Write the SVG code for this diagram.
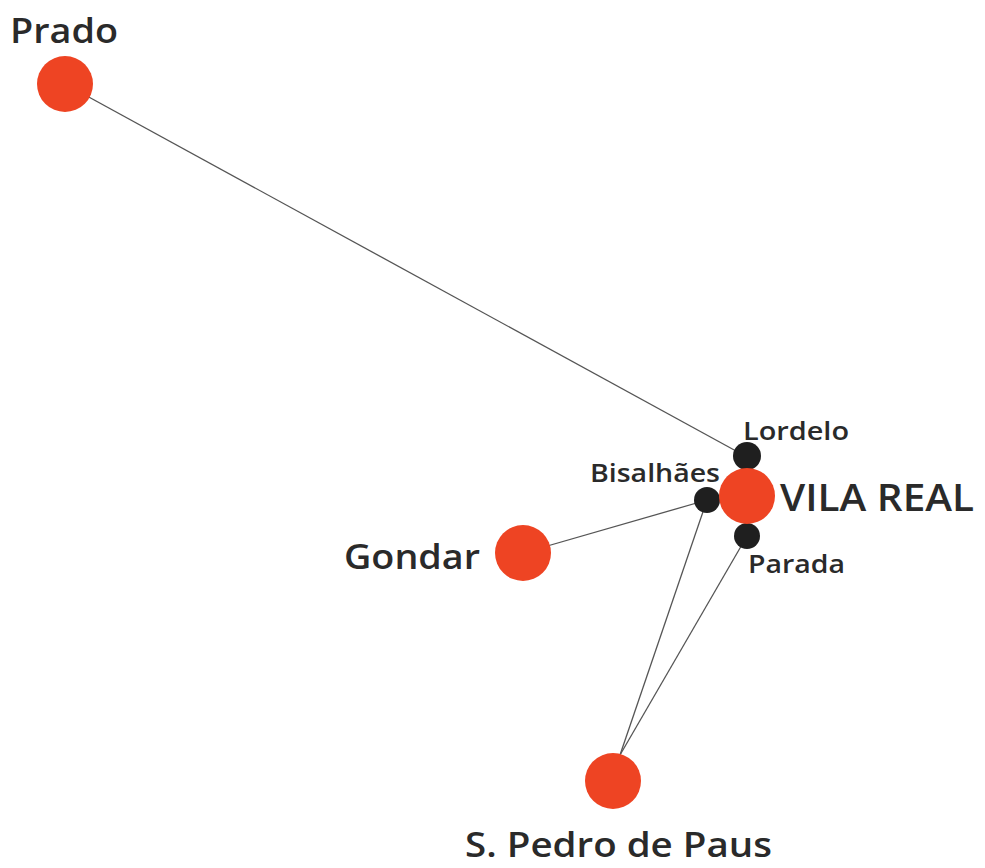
<svg xmlns="http://www.w3.org/2000/svg" width="985" height="868" viewBox="0 0 985 868">
<style>
.big{fill:#ee4423}
.small{fill:#1f1f1f}
text{font-family:"Open Sans","Liberation Sans",sans-serif;font-weight:600;fill:#2a2a2a}
.edge{stroke:#555;stroke-width:1.3;fill:none}
</style>
<rect width="985" height="868" fill="#fff"/>
<g id="edges">
<line class="edge" x1="65" y1="84" x2="747" y2="457"/>
<line class="edge" x1="523" y1="553" x2="707" y2="500"/>
<line class="edge" x1="620" y1="755" x2="707" y2="500"/>
<line class="edge" x1="620" y1="755" x2="747" y2="536"/>
</g>
<g id="prado"><circle class="big" cx="65" cy="84" r="28"/><text x="10" y="43" font-size="35" textLength="108" lengthAdjust="spacingAndGlyphs">Prado</text></g>
<g id="lordelo"><circle class="small" cx="747" cy="456" r="14"/><text x="743" y="440" font-size="25" textLength="106" lengthAdjust="spacingAndGlyphs">Lordelo</text></g>
<g id="bisalhaes"><circle class="small" cx="707" cy="500" r="13"/><text x="590" y="482" font-size="25" textLength="130" lengthAdjust="spacingAndGlyphs">Bisalhães</text></g>
<g id="parada"><circle class="small" cx="747" cy="536" r="13"/><text x="748" y="573" font-size="25" textLength="97" lengthAdjust="spacingAndGlyphs">Parada</text></g>
<g id="vilareal"><circle class="big" cx="747" cy="496" r="28"/><text x="780" y="511" font-size="37" textLength="194" lengthAdjust="spacingAndGlyphs">VILA REAL</text></g>
<g id="gondar"><circle class="big" cx="523" cy="553" r="28"/><text x="344" y="569" font-size="35" textLength="136" lengthAdjust="spacingAndGlyphs">Gondar</text></g>
<g id="spedro"><circle class="big" cx="613" cy="781" r="28"/><text x="465" y="857" font-size="35" textLength="307" lengthAdjust="spacingAndGlyphs">S. Pedro de Paus</text></g>
</svg>
